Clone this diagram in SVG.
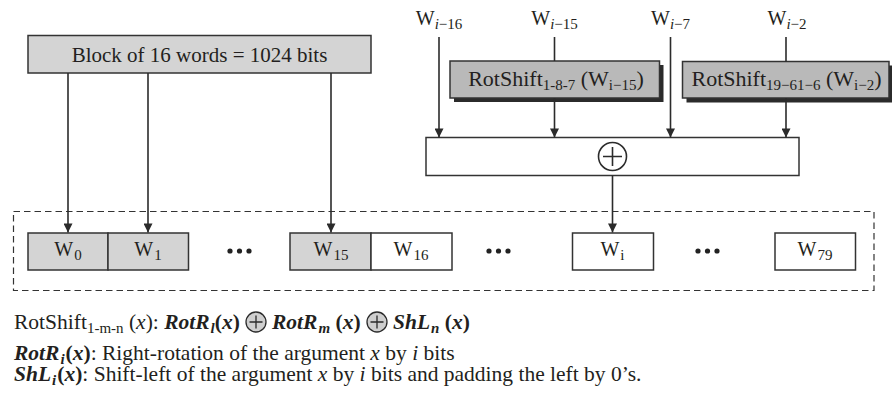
<svg xmlns="http://www.w3.org/2000/svg" width="892" height="398" viewBox="0 0 892 398">
<defs>
<style>
text{font-family:"Liberation Serif","Times New Roman",serif;fill:#231f20}
.box{stroke:#333;stroke-width:1.5}
.light{fill:#d4d4d4}
.mid{fill:#b9b9b9}
.white{fill:#fff}
.shadow{fill:#2b2b2b}
.conn{stroke:#2b2b2b;stroke-width:1.6;fill:none}
.dash{stroke:#333;stroke-width:1.2;fill:none;stroke-dasharray:6.5 4}
.t22{font-size:22px}
.t21{font-size:21px}
.t20{font-size:20px}
.leg{font-size:21.5px}
.sub{font-size:15px}
.it{font-style:italic}
.b{font-weight:bold}
.bi{font-weight:bold;font-style:italic}
.dot{fill:#222}
</style>
<marker id="arr" viewBox="0 0 10 10" refX="10" refY="5" markerWidth="11" markerHeight="9" markerUnits="userSpaceOnUse" orient="auto">
<path d="M0,0 L10,5 L0,10 z" fill="#2b2b2b"/>
</marker>
</defs>

<!-- dashed frame -->
<rect id="frame" class="dash" x="13.5" y="211.5" width="860.5" height="79"/>

<g id="block">
<rect class="box light" x="28" y="35.5" width="343" height="37.5"/>
<text class="t21" x="199.5" y="62" text-anchor="middle">Block of 16 words = 1024 bits</text>
</g>

<g id="lbl_i16"><text class="t20" x="439" y="25" text-anchor="middle">W<tspan class="sub" dy="4"><tspan class="it">i</tspan>−16</tspan></text></g>
<g id="lbl_i15"><text class="t20" x="554.5" y="25" text-anchor="middle">W<tspan class="sub" dy="4"><tspan class="it">i</tspan>−15</tspan></text></g>
<g id="lbl_i7"><text class="t20" x="670.5" y="25" text-anchor="middle">W<tspan class="sub" dy="4"><tspan class="it">i</tspan>−7</tspan></text></g>
<g id="lbl_i2"><text class="t20" x="787" y="25" text-anchor="middle">W<tspan class="sub" dy="4"><tspan class="it">i</tspan>−2</tspan></text></g>

<g id="rot1">
<rect class="shadow" x="454" y="65" width="209.5" height="37"/>
<rect class="box mid" x="450" y="61" width="209.5" height="37"/>
<text class="t22" x="556" y="86" text-anchor="middle">RotShift<tspan class="sub" dy="4">1-8-7</tspan><tspan dy="-4"> (W</tspan><tspan class="sub" dy="4">i−15</tspan><tspan dy="-4">)</tspan></text>
</g>

<g id="rot2">
<rect class="shadow" x="686.5" y="65.5" width="205.5" height="37"/>
<rect class="box mid" x="682.5" y="61.5" width="206.5" height="36.5"/>
<text class="t22" x="786.5" y="86" text-anchor="middle">RotShift<tspan class="sub" dy="4">19−61−6</tspan><tspan dy="-4"> (W</tspan><tspan class="sub" dy="4">i−2</tspan><tspan dy="-4">)</tspan></text>
</g>

<g id="sum">
<rect class="box white" x="426" y="137.5" width="373" height="38"/>
<circle cx="612.5" cy="156.5" r="14" fill="#fff" stroke="#2b2b2b" stroke-width="1.6"/>
<path d="M603,156.5 H622 M612.5,147 V166" stroke="#2b2b2b" stroke-width="1.6"/>
</g>

<g id="w0"><rect class="box light" x="28" y="233" width="80" height="37"/><text class="t20" x="68" y="256" text-anchor="middle">W<tspan class="sub" dx="1" dy="4">0</tspan></text></g>
<g id="w1"><rect class="box light" x="108" y="233" width="80.5" height="37"/><text class="t20" x="148" y="256" text-anchor="middle">W<tspan class="sub" dx="1" dy="4">1</tspan></text></g>
<g id="w15"><rect class="box light" x="290" y="233" width="81" height="37"/><text class="t20" x="331" y="256" text-anchor="middle">W<tspan class="sub" dx="1" dy="4">15</tspan></text></g>
<g id="w16"><rect class="box white" x="371" y="233" width="81" height="37"/><text class="t20" x="411" y="256" text-anchor="middle">W<tspan class="sub" dx="1" dy="4">16</tspan></text></g>
<g id="wi"><rect class="box white" x="572.5" y="233" width="81" height="37"/><text class="t20" x="612.5" y="256" text-anchor="middle">W<tspan class="sub" dx="1" dy="4">i</tspan></text></g>
<g id="w79"><rect class="box white" x="775" y="233" width="80.5" height="37"/><text class="t20" x="815" y="256" text-anchor="middle">W<tspan class="sub" dx="1" dy="4">79</tspan></text></g>

<g id="dots1"><circle class="dot" cx="230" cy="251" r="2.6"/><circle class="dot" cx="239.5" cy="251" r="2.6"/><circle class="dot" cx="249" cy="251" r="2.6"/></g>
<g id="dots2"><circle class="dot" cx="489" cy="251" r="2.6"/><circle class="dot" cx="498.5" cy="251" r="2.6"/><circle class="dot" cx="508" cy="251" r="2.6"/></g>
<g id="dots3"><circle class="dot" cx="698" cy="251" r="2.6"/><circle class="dot" cx="707.5" cy="251" r="2.6"/><circle class="dot" cx="717" cy="251" r="2.6"/></g>

<g id="connectors">
<line class="conn" x1="68" y1="73" x2="68" y2="232.5" marker-end="url(#arr)"/>
<line class="conn" x1="148" y1="73" x2="148" y2="232.5" marker-end="url(#arr)"/>
<line class="conn" x1="331" y1="73" x2="331" y2="232.5" marker-end="url(#arr)"/>
<line class="conn" x1="439" y1="37" x2="439" y2="137.5" marker-end="url(#arr)"/>
<line class="conn" x1="554.5" y1="37" x2="554.5" y2="61"/>
<line class="conn" x1="554.5" y1="98" x2="554.5" y2="137.5" marker-end="url(#arr)"/>
<line class="conn" x1="670.5" y1="37" x2="670.5" y2="137.5" marker-end="url(#arr)"/>
<line class="conn" x1="786" y1="37" x2="786" y2="61.5"/>
<line class="conn" x1="786" y1="98" x2="786" y2="137.5" marker-end="url(#arr)"/>
<line class="conn" x1="612.5" y1="175.5" x2="612.5" y2="232.5" marker-end="url(#arr)"/>
</g>

<g id="legend">
<text class="leg" x="14" y="329">RotShift<tspan class="sub" dy="4">1-m-n</tspan><tspan dy="-4"> (</tspan><tspan class="it">x</tspan>): <tspan class="bi">RotR</tspan><tspan class="bi sub" dx="1" dy="4">l</tspan><tspan class="b" dy="-4">(</tspan><tspan class="bi">x</tspan><tspan class="b">)</tspan></text>
<circle cx="256" cy="322" r="10" fill="#cfcfcf" stroke="#2b2b2b" stroke-width="1.3"/>
<path d="M249.5,322 H262.5 M256,315.5 V328.5" stroke="#2b2b2b" stroke-width="1.3"/>
<text class="leg" x="272" y="329"><tspan class="bi">RotR</tspan><tspan class="bi sub" dx="1" dy="4">m</tspan><tspan class="b" dy="-4"> (</tspan><tspan class="bi">x</tspan><tspan class="b">)</tspan></text>
<circle cx="377" cy="322" r="10" fill="#cfcfcf" stroke="#2b2b2b" stroke-width="1.3"/>
<path d="M370.5,322 H383.5 M377,315.5 V328.5" stroke="#2b2b2b" stroke-width="1.3"/>
<text class="leg" x="393" y="329"><tspan class="bi">ShL</tspan><tspan class="bi sub" dx="1" dy="4">n</tspan><tspan class="b" dy="-4"> (</tspan><tspan class="bi">x</tspan><tspan class="b">)</tspan></text>
<text class="leg" x="14" y="360"><tspan class="bi">RotR</tspan><tspan class="bi sub" dx="1" dy="4">i</tspan><tspan class="b" dx="1" dy="-4">(</tspan><tspan class="bi">x</tspan><tspan class="b">)</tspan>: Right-rotation of the argument <tspan class="it">x</tspan> by <tspan class="it">i</tspan> bits</text>
<text class="leg" x="14" y="381"><tspan class="bi">ShL</tspan><tspan class="bi sub" dx="1" dy="4">i</tspan><tspan class="b" dx="1" dy="-4">(</tspan><tspan class="bi">x</tspan><tspan class="b">)</tspan>: Shift-left of the argument <tspan class="it">x</tspan> by <tspan class="it">i</tspan> bits and padding the left by 0’s.</text>
</g>
</svg>
